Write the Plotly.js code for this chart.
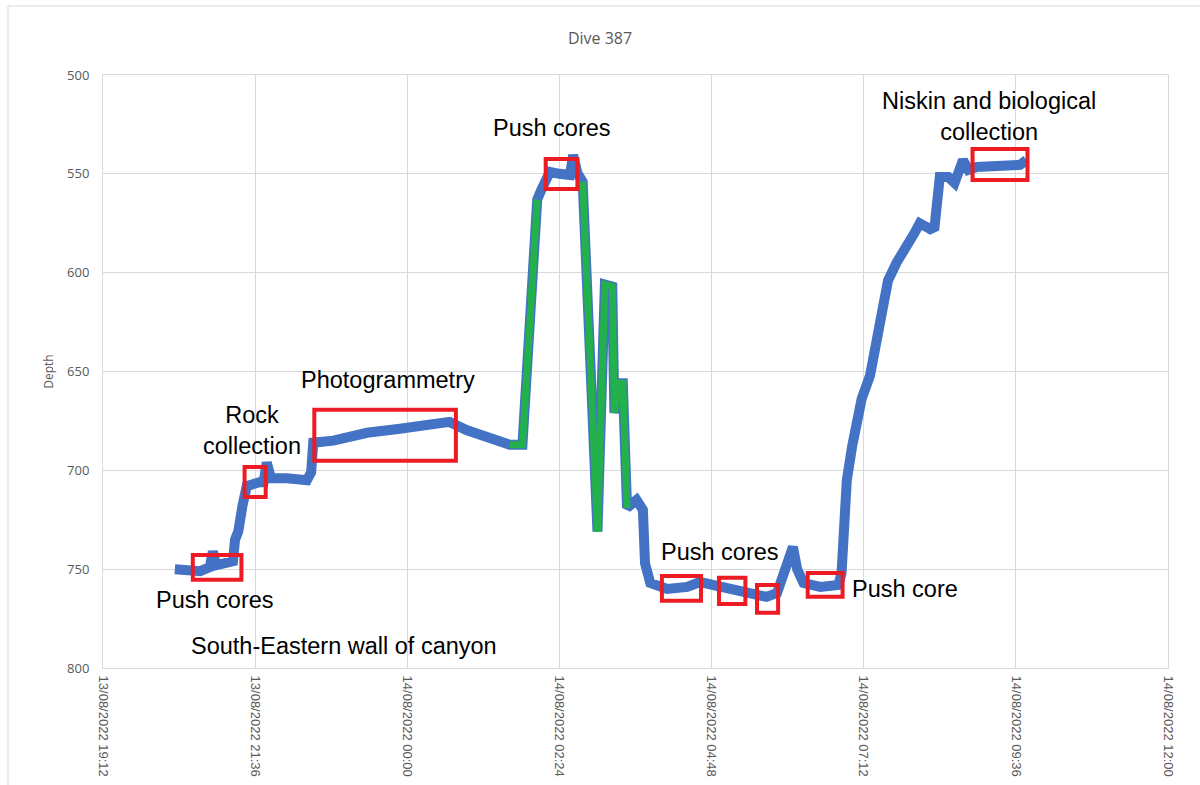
<!DOCTYPE html>
<html>
<head>
<meta charset="utf-8">
<script src="https://cdn.plot.ly/plotly-3.0.1.min.js"></script>
<style>html,body{margin:0;padding:0;background:#fff;}#chart{width:1200px;height:785px;}</style>
</head>
<body>
<div id="chart"></div>
<script>
// Dive track: time vs depth
const times = [
  "2022-08-13 20:20","2022-08-13 20:31","2022-08-13 20:44","2022-08-13 20:53","2022-08-13 20:56",
  "2022-08-13 20:59","2022-08-13 21:09","2022-08-13 21:15","2022-08-13 21:17","2022-08-13 21:20",
  "2022-08-13 21:24","2022-08-13 21:28","2022-08-13 21:40","2022-08-13 21:44","2022-08-13 21:47",
  "2022-08-13 21:51","2022-08-13 22:06","2022-08-13 22:25","2022-08-13 22:29","2022-08-13 22:31",
  "2022-08-13 22:50","2022-08-13 23:22","2022-08-13 23:53","2022-08-14 00:24","2022-08-14 00:40",
  "2022-08-14 00:56","2022-08-14 01:28","2022-08-14 01:37","2022-08-14 01:49","2022-08-14 02:03",
  "2022-08-14 02:07","2022-08-14 02:15","2022-08-14 02:24","2022-08-14 02:34","2022-08-14 02:37",
  "2022-08-14 02:41","2022-08-14 02:46","2022-08-14 03:00","2022-08-14 03:07","2022-08-14 03:14",
  "2022-08-14 03:16","2022-08-14 03:20","2022-08-14 03:24","2022-08-14 03:28","2022-08-14 03:37",
  "2022-08-14 03:43","2022-08-14 03:45","2022-08-14 03:50","2022-08-14 04:06","2022-08-14 04:25",
  "2022-08-14 04:37","2022-08-14 04:49","2022-08-14 05:03","2022-08-14 05:15","2022-08-14 05:27",
  "2022-08-14 05:40","2022-08-14 05:50","2022-08-14 05:59","2022-08-14 06:05","2022-08-14 06:09",
  "2022-08-14 06:15","2022-08-14 06:31","2022-08-14 06:48","2022-08-14 06:51","2022-08-14 06:56",
  "2022-08-14 07:01","2022-08-14 07:10","2022-08-14 07:18","2022-08-14 07:29","2022-08-14 07:35",
  "2022-08-14 07:43","2022-08-14 07:54","2022-08-14 08:00","2022-08-14 08:05","2022-08-14 08:15",
  "2022-08-14 08:19","2022-08-14 08:21","2022-08-14 08:24","2022-08-14 08:32","2022-08-14 08:38",
  "2022-08-14 08:46","2022-08-14 08:51","2022-08-14 08:59","2022-08-14 09:21","2022-08-14 09:40",
  "2022-08-14 09:46"
];
const depth = [
  750,751,751,749,741,
  748,747,746,735,731,
  718,708,706,706,696,
  704,704,705,701,686,
  685,681,679,676,675.5,
  679.6,685.6,687,687,563,
  558,549,550,550.6,540.5,
  549.6,554,731,606,607,
  671,656,656,719,715,
  720,747,757,760,759,
  756.5,758,759.5,760.5,762,
  764,762,747,738.7,750,
  757,759,758,752,705,
  688,664,652,620,604,
  595,583.5,580,575,578,
  577,560,551.6,551.6,554.6,
  543,548,546.5,546,545.5,
  543
];
// Highlighted (green) transit segments
const greenTimes = [
  "2022-08-14 01:37","2022-08-14 01:49","2022-08-14 02:03",null,
  "2022-08-14 02:46","2022-08-14 03:00","2022-08-14 03:07","2022-08-14 03:14",
  "2022-08-14 03:16","2022-08-14 03:20","2022-08-14 03:24","2022-08-14 03:28"
];
const greenDepth = [687,687,563,null,554,731,606,607,671,656,656,719];

// Sampling boxes
const boxStart  = ["2022-08-13 20:37","2022-08-13 21:26","2022-08-13 22:32","2022-08-14 02:11","2022-08-14 04:01","2022-08-14 04:55","2022-08-14 05:31","2022-08-14 06:19","2022-08-14 08:55"];
const boxEnd    = ["2022-08-13 21:23","2022-08-13 21:46","2022-08-14 00:46","2022-08-14 02:41","2022-08-14 04:38","2022-08-14 05:20","2022-08-14 05:51","2022-08-14 06:52","2022-08-14 09:47"];
const boxTop    = [742.8,698.3,669.4,542.5,753.4,754.4,758,751.9,537.4];
const boxBottom = [755.4,713.5,695.2,557.7,766,767.6,772,764,553.1];

// Labels
const labelText = ["Push cores","Rock<br>collection","Photogrammetry","Push cores","Push cores","Push core","Niskin and biological<br>collection","South-Eastern wall of canyon"];
const labelTime = ["2022-08-13 20:58","2022-08-13 21:33","2022-08-13 23:42","2022-08-14 02:17","2022-08-14 04:56","2022-08-14 06:59","2022-08-14 09:11","2022-08-13 23:00"];
const labelDepth = [765.6,680,654.3,526.8,741.3,760,521.2,788.8];
const labelAnchor = ["center","center","center","center","center","left","center","center"];

// Axis ticks
const xTickVals = ["2022-08-13 19:12","2022-08-13 21:36","2022-08-14 00:00","2022-08-14 02:24","2022-08-14 04:48","2022-08-14 07:12","2022-08-14 09:36","2022-08-14 12:00"];
const xTickText = ["13/08/2022 19:12","13/08/2022 21:36","14/08/2022 00:00","14/08/2022 02:24","14/08/2022 04:48","14/08/2022 07:12","14/08/2022 09:36","14/08/2022 12:00"];
const yTickVals = [500,550,600,650,700,750,800];

const traces = [
  {x: times, y: depth, type: "scatter", mode: "lines",
   line: {color: "#4472c4", width: 10}, hoverinfo: "x+y"},
  {x: greenTimes, y: greenDepth, type: "scatter", mode: "lines", connectgaps: false,
   line: {color: "#22b14c", width: 7}, hoverinfo: "x+y"}
];

const shapes = boxStart.map((s, i) => ({
  type: "rect", xref: "x", yref: "y",
  x0: s, x1: boxEnd[i], y0: boxTop[i], y1: boxBottom[i],
  line: {color: "#ed1c24", width: 4}, fillcolor: "rgba(0,0,0,0)"
}));
// outer chart border
shapes.push({type: "rect", xref: "paper", yref: "paper", x0: -0.0892, x1: 1.04, y0: -0.22, y1: 1.1164,
  line: {color: "#d9d9d9", width: 1}, fillcolor: "rgba(0,0,0,0)", layer: "below"});

const annotations = labelText.map((t, i) => ({
  x: labelTime[i], y: labelDepth[i], xref: "x", yref: "y",
  text: t, showarrow: false, xanchor: labelAnchor[i], yanchor: "middle",
  font: {family: "Liberation Sans, Arial, sans-serif", size: 23.5, color: "#000"}
}));

const layout = {
  width: 1200, height: 785,
  margin: {l: 103, r: 32, t: 75, b: 117},
  paper_bgcolor: "#fff", plot_bgcolor: "#fff",
  showlegend: false,
  title: {text: "Dive 387", x: 0.5, xanchor: "center", y: 0.951, yanchor: "middle",
    font: {family: "Open Sans, sans-serif", size: 16, color: "#595959"}},
  xaxis: {
    type: "date", range: ["2022-08-13 19:12", "2022-08-14 12:00"],
    tickmode: "array", tickvals: xTickVals, ticktext: xTickText,
    tickangle: 90, ticks: "", ticklabelstandoff: 4,
    tickfont: {family: "Liberation Sans, Arial, sans-serif", size: 13, color: "#595959"},
    showgrid: true, gridcolor: "#d9d9d9", gridwidth: 1,
    showline: true, linecolor: "#d9d9d9", linewidth: 1, mirror: true, zeroline: false
  },
  yaxis: {
    range: [800, 500], tickmode: "array", tickvals: yTickVals,
    ticks: "", ticklabelstandoff: 10,
    tickfont: {family: "Open Sans, sans-serif", size: 13, color: "#595959"},
    title: {text: "Depth", standoff: 10, font: {family: "Open Sans, sans-serif", size: 12, color: "#595959"}},
    showgrid: true, gridcolor: "#d9d9d9", gridwidth: 1,
    showline: true, linecolor: "#d9d9d9", linewidth: 1, mirror: true, zeroline: false
  },
  shapes: shapes,
  annotations: annotations
};

Plotly.newPlot("chart", traces, layout, {displayModeBar: false, staticPlot: true});
</script>
</body>
</html>
